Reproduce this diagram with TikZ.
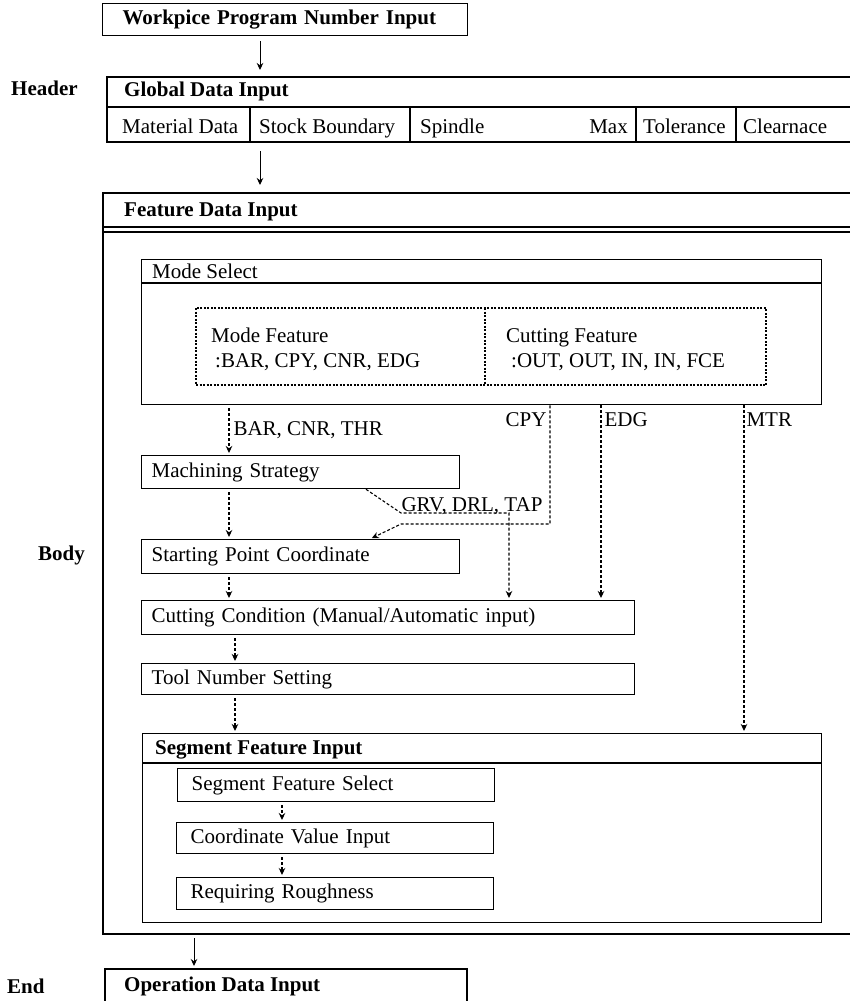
\documentclass[tikz,border=0pt]{standalone}
\usepackage{fontspec}
\setmainfont{Liberation Serif}
\usetikzlibrary{arrows.meta, positioning}

\begin{document}
\begin{tikzpicture}[x=1pt, y=-1pt,
        >={Stealth[length=7pt, width=6.5pt]},
        every node/.style={font=\fontsize{21}{25}\selectfont, inner sep=0pt},
        box/.style={draw, line width=1.3pt, anchor=north west, inner xsep=10pt, align=left},
        tbox/.style={box, inner xsep=20pt, font=\fontsize{21}{25}\selectfont\bfseries},
        ttl/.style={anchor=base west, font=\fontsize{21}{25}\selectfont\bfseries},
        lbl/.style={anchor=base west},
        frame/.style={line width=1.3pt},
        flow/.style={->, line width=1.1pt, dash pattern=on 3pt off 2pt, shorten <=3pt, shorten >=2pt},
        solidflow/.style={->, line width=1pt},
        ]
        \useasboundingbox (0,0) rectangle (850,1001);

        % header part
        \node[tbox, text width=325, minimum height=32] (wpn) at (102,3) {Workpice Program Number Input};
        \node[ttl] (hdr) at (11,95) {Header};
        \draw[frame] (860,77) -- (107,77) -- (107,142) -- (860,142);
        \draw[frame] (107,107) -- (860,107);
        \foreach \xd in {250,410,636,736}
            \draw[frame] (\xd,107) -- (\xd,142);
        \node[ttl] (gdi) at (124,96) {Global Data Input};
        \node[lbl] (matd) at (122,133) {Material Data};
        \node[lbl] (stkb) at (259,133) {Stock Boundary};
        \node[lbl] (spdl) at (420,133) {Spindle};
        \node[anchor=base east] (smax) at (628,133) {Max};
        \node[lbl] (tol) at (643,133) {Tolerance};
        \node[lbl] (clr) at (743,133) {Clearnace};
        \coordinate (gdi_top) at (260,77);
        \coordinate (gdi_bot) at (260,142);
        \coordinate (fdi_top) at (260,193);
        \draw[solidflow, shorten <=5pt, shorten >=7pt] (wpn.south -| gdi_top) -- (gdi_top);
        \draw[solidflow, shorten <=9pt, shorten >=8pt] (gdi_bot) -- (fdi_top);

        % body part
        \node[ttl] (bdy) at (38,560) {Body};
        \draw[frame] (860,193) -- (103,193) -- (103,934) -- (860,934);
        \draw[frame] (103,227) -- (860,227);
        \draw[frame] (103,232) -- (860,232);
        \node[ttl] (fdi) at (124,216) {Feature Data Input};

        \node[box, minimum width=680, minimum height=145] (ms) at (141,259) {};
        \draw[frame] (141,283) -- (821,283);
        \node[lbl] (mstl) at (152,278) {Mode Select};
        \draw[line width=1.2pt, dash pattern=on 2pt off 1.5pt] (196,308) rectangle (766,385) (485,308) -- (485,385);
        \node[lbl] (mf1) at (211,342) {Mode Feature};
        \node[lbl] (mf2) at (215,367) {:BAR, CPY, CNR, EDG};
        \node[lbl] (cf1) at (506,342) {Cutting Feature};
        \node[lbl] (cf2) at (511,367) {:OUT, OUT, IN, IN, FCE};

        \node[box, text width=298, minimum height=33] (mach) at (141,455) {Machining Strategy};
        \node[box, text width=298, minimum height=34] (spc) at (141,539) {Starting Point Coordinate};
        \node[box, text width=473, minimum height=34] (cc) at (141,600) {Cutting Condition (Manual/Automatic input)};
        \node[box, text width=473, minimum height=31] (tns) at (141,663) {Tool Number Setting};

        \node[box, minimum width=679, minimum height=189] (sfi) at (142,733) {};
        \draw[frame] (142,763) -- (821,763);
        \node[ttl] (sfit) at (155,754) {Segment Feature Input};
        \node[box, inner xsep=14pt, text width=289, minimum height=33] (sfs) at (177,768) {Segment Feature Select};
        \node[box, inner xsep=14pt, text width=289, minimum height=31] (cvi) at (176,822) {Coordinate Value Input};
        \node[box, inner xsep=14pt, text width=289, minimum height=32] (rr) at (176,877) {Requiring Roughness};

        % dashed connectors
        \coordinate (xa) at (229,0);
        \coordinate (xb) at (235,0);
        \coordinate (xc) at (282,0);
        \coordinate (xgs) at (366,0);
        \coordinate (xspc) at (370,0);
        \coordinate (xgrv) at (509,0);
        \coordinate (xcpy) at (550,0);
        \coordinate (xedg) at (601,0);
        \coordinate (xmtr) at (744,0);
        \coordinate (cpyb1) at (550,524);
        \coordinate (cpyb2) at (401,524);
        \coordinate (grvb1) at (401,513);
        \coordinate (grvb2) at (509,513);

        \draw[flow] (ms.south -| xa) -- node[pos=0.61, anchor=base west, xshift=4pt] {BAR, CNR, THR} (mach.north -| xa);
        \draw[flow] (mach.south -| xa) -- (spc.north -| xa);
        \draw[flow] (spc.south -| xa) -- (cc.north -| xa);
        \draw[flow] (cc.south -| xb) -- (tns.north -| xb);
        \draw[flow] (tns.south -| xb) -- (sfi.north -| xb);
        \draw[flow] (sfs.south -| xc) -- (cvi.north -| xc);
        \draw[flow] (cvi.south -| xc) -- (rr.north -| xc);
        \draw[flow, shorten <=0pt] (ms.south -| xcpy) -- node[pos=0.175, anchor=base east, xshift=-3pt] {CPY} (cpyb1) -- (cpyb2) -- (spc.north -| xspc);
        \draw[flow, shorten <=0pt] (mach.south -| xgs) -- (grvb1) -- node[pos=0, anchor=base west, yshift=2pt] {GRV, DRL, TAP} (grvb2) -- (cc.north -| xgrv);
        \draw[flow, shorten <=0pt] (ms.south -| xedg) -- node[pos=0.107, anchor=base west, xshift=3pt] {EDG} (cc.north -| xedg);
        \draw[flow, shorten <=0pt] (ms.south -| xmtr) -- node[pos=0.064, anchor=base west, xshift=2pt] {MTR} (sfi.north -| xmtr);

        % end part
        \node[ttl] (endl) at (7,993) {End};
        \draw[frame] (105,1010) -- (105,969) -- (467,969) -- (467,1010);
        \node[ttl] (odi) at (124,991) {Operation Data Input};
        \coordinate (fdi_bot) at (194,934);
        \coordinate (odi_top) at (194,969);
        \draw[solidflow, shorten <=4pt, shorten >=3pt] (fdi_bot) -- (odi_top);
      \end{tikzpicture}
\end{document}
